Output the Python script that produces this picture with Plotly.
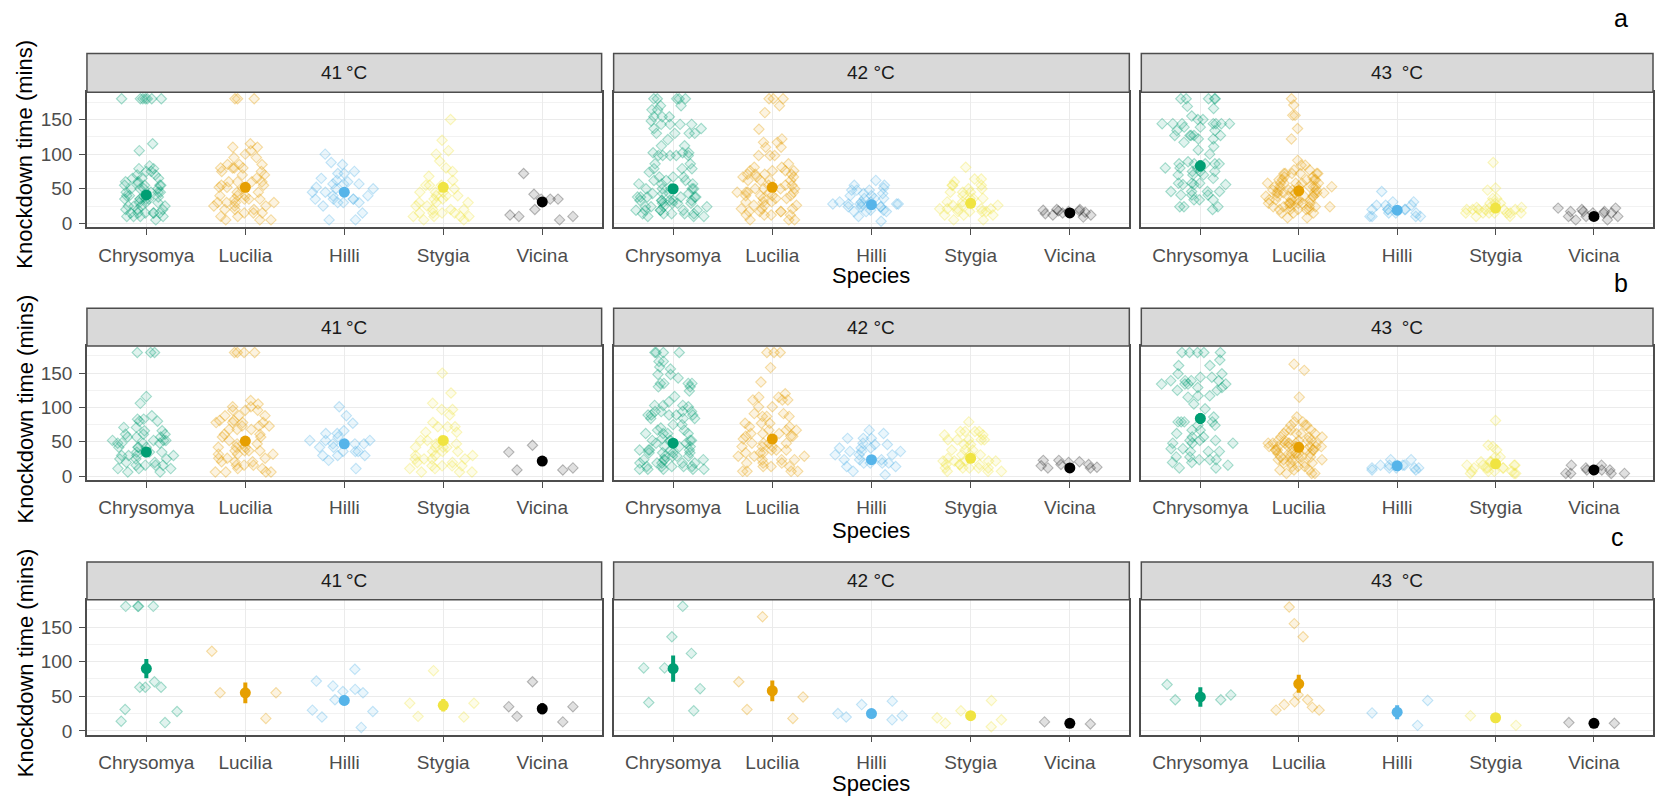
import plotly.graph_objects as go

# ---------------------------------------------------------------- categories
SPECIES = ["Chrysomya", "Lucilia", "Hilli", "Stygia", "Vicina"]
TEMPS = ["41\u2009°C", "42 °C", "43\u2002°C"]
ROW_TAGS = ["a", "b", "c"]
COLORS = ["#009E73", "#E69F00", "#56B4E9", "#F0E442", "#000000"]
Y_TICKS = [0, 50, 100, 150]

# ---------------------------------------------------------------- row a (knockdown times, mins)
A41_CHRY = [180, 180, 180, 180, 180, 180, 180, 115, 105, 83, 79, 79, 75, 75, 70, 70, 65, 65, 65, 60, 60, 58,
            55, 55, 55, 55, 50, 50, 50, 50, 45, 45, 45, 45, 40, 40, 38, 38, 35, 35, 35, 35, 35, 30, 30, 30,
            25, 25, 25, 25, 20, 20, 20, 15, 15, 15, 15, 15, 15, 10, 10, 10, 10, 5]
A41_LUC = [180, 180, 180, 115, 110, 110, 105, 100, 95, 95, 85, 85, 85, 80, 80, 80, 80, 75, 75, 70, 70, 65,
           60, 60, 60, 60, 55, 55, 52, 52, 50, 45, 45, 40, 40, 40, 35, 35, 35, 35, 30, 30, 30, 30, 25, 25, 25,
           20, 20, 20, 15, 15, 15, 10, 10, 5, 5, 5]
A41_HILLI = [100, 88, 85, 75, 72, 72, 65, 62, 60, 57, 57, 57, 52, 50, 50, 45, 45, 40, 40, 35, 35, 35, 35,
             30, 30, 30, 25, 15, 5, 5]
A41_STYG = [150, 120, 105, 100, 90, 80, 75, 68, 62, 55, 55, 55, 50, 45, 45, 45, 40, 40, 40, 35, 35, 30, 30,
            30, 25, 25, 20, 20, 20, 15, 15, 15, 15, 10, 10, 10, 10, 5, 5]
A41_VIC = [72, 42, 35, 35, 35, 20, 12, 10, 10, 5]

A42_CHRY = [180, 180, 180, 180, 180, 170, 170, 164, 164, 154, 154, 154, 148, 143, 143, 143, 143, 137, 137,
            130, 130, 130, 130, 121, 112, 112, 102, 102, 102, 98, 98, 98, 98, 98, 86, 86, 79, 79, 79, 74,
            67, 67, 67, 62, 62, 62, 57, 57, 57, 50, 50, 50, 50, 50, 43, 43, 43, 43, 38, 38, 38, 38, 38, 38,
            33, 33, 33, 33, 33, 33, 29, 29, 29, 29, 24, 24, 24, 24, 19, 19, 19, 19, 19, 19, 14, 14, 14, 14,
            14, 10, 10, 10]
A42_LUC = [180, 180, 180, 170, 160, 136, 122, 117, 117, 110, 110, 98, 98, 98, 86, 81, 81, 76, 76, 76, 76,
           71, 71, 71, 71, 67, 67, 67, 62, 62, 62, 62, 55, 55, 55, 50, 50, 50, 50, 45, 45, 45, 45, 45,
           40, 40, 40, 40, 36, 36, 36, 31, 31, 31, 26, 26, 26, 21, 21, 21, 17, 17, 17, 17, 12, 12, 12, 12,
           5, 5, 5]
A42_HILLI = [62, 55, 55, 51, 48, 48, 48, 43, 43, 40, 40, 36, 36, 36, 31, 31, 31, 28, 28, 28, 28, 28, 28,
             24, 24, 24, 24, 19, 19, 17, 17, 17, 10, 3]
A42_STYG = [81, 64, 64, 60, 55, 55, 55, 50, 50, 45, 45, 45, 40, 36, 36, 36, 31, 31, 26, 26, 26, 21, 21, 21,
            21, 21, 17, 17, 17, 17, 12, 12, 12, 5, 5]
A42_VIC = [12, 9, 19, 20, 18, 17, 14, 20, 12, 15, 18, 16]

A43_CHRY = [180, 180, 180, 180, 180, 169, 166, 155, 150, 150, 144, 144, 144, 144, 144, 144, 144, 139, 139,
            134, 134, 127, 127, 127, 127, 127, 122, 122, 117, 111, 106, 100, 89, 86, 86, 86, 86, 86, 80, 80,
            80, 75, 75, 75, 70, 70, 70, 65, 58, 58, 58, 56, 56, 56, 46, 46, 46, 46, 41, 41, 41, 34, 34, 34,
            24, 24, 24, 20]
A43_LUC = [180, 171, 156, 156, 137, 122, 91, 84, 84, 77, 77, 72, 72, 72, 72, 72, 72, 67, 67, 63, 63, 63, 63,
           63, 58, 58, 58, 58, 58, 58, 53, 53, 53, 53, 53, 53, 53, 48, 48, 48, 48, 48, 44, 44, 44, 44, 44, 44,
           44, 44, 39, 39, 39, 39, 39, 39, 34, 34, 34, 34, 34, 34, 29, 29, 29, 29, 29, 29, 29, 24, 24, 24, 24,
           24, 24, 20, 20, 20, 20, 20, 15, 15, 15, 8, 8]
A43_HILLI = [46, 31, 31, 26, 26, 26, 20, 20, 20, 20, 20, 15, 15, 15, 10, 10, 10, 10]
A43_STYG = [88, 51, 48, 36, 36, 29, 29, 29, 23, 23, 23, 20, 20, 20, 20, 20, 20, 15, 15, 15, 15, 15, 15, 15,
            10, 10]
A43_VIC = [22, 22, 20, 17, 17, 17, 15, 15, 15, 10, 10, 10, 5, 5]

# ---------------------------------------------------------------- row b
B41_CHRY = [180, 180, 180, 116, 106, 88, 83, 83, 80, 80, 71, 71, 66, 66, 61, 61, 61, 57, 57, 57, 52, 52, 52,
            52, 48, 48, 48, 48, 42, 42, 42, 42, 35, 35, 35, 35, 30, 30, 30, 30, 25, 25, 25, 20, 20, 16, 16,
            16, 16, 11, 11, 11, 6, 6]
B41_LUC = [180, 180, 180, 180, 110, 105, 101, 101, 96, 96, 96, 88, 88, 88, 81, 81, 78, 78, 78, 78, 73, 73,
           73, 68, 68, 68, 61, 61, 57, 57, 52, 47, 47, 47, 42, 42, 42, 37, 37, 37, 37, 32, 32, 32, 26, 26, 26,
           21, 21, 21, 16, 16, 16, 11, 11, 6, 6, 6, 6]
B41_HILLI = [101, 88, 77, 66, 62, 62, 57, 52, 52, 52, 47, 47, 47, 42, 42, 36, 36, 36, 30, 30, 30, 23, 11]
B41_STYG = [150, 121, 106, 97, 97, 89, 78, 72, 72, 72, 64, 64, 52, 52, 52, 47, 47, 42, 42, 42, 42, 36, 36,
            36, 30, 30, 30, 25, 25, 25, 25, 20, 20, 15, 15, 15, 15, 11, 11, 6, 6, 6]
B41_VIC = [45, 35, 12, 9, 9]

B42_CHRY = [180, 180, 180, 180, 167, 167, 159, 156, 148, 148, 143, 135, 135, 135, 135, 130, 130, 124, 116,
            108, 103, 103, 103, 101, 94, 94, 94, 94, 89, 89, 89, 89, 89, 84, 84, 84, 75, 75, 70, 67, 67, 62,
            62, 62, 62, 55, 52, 52, 52, 52, 52, 48, 48, 43, 43, 43, 38, 38, 38, 38, 38, 34, 34, 34, 34, 29,
            29, 29, 29, 24, 24, 24, 24, 19, 19, 19, 19, 19, 14, 14, 14, 14, 14, 10, 10, 10, 10, 10]
B42_LUC = [180, 180, 180, 158, 137, 120, 115, 115, 111, 111, 111, 101, 101, 91, 91, 87, 87, 87, 77, 77, 77,
           72, 72, 67, 67, 67, 62, 62, 62, 58, 58, 58, 54, 48, 48, 48, 48, 43, 43, 43, 38, 38, 38, 34, 34,
           34, 29, 29, 29, 24, 24, 24, 19, 19, 19, 14, 14, 14, 7, 7, 7, 7]
B42_HILLI = [67, 62, 55, 55, 55, 48, 46, 46, 41, 41, 41, 36, 36, 36, 31, 31, 31, 24, 24, 24, 19, 19, 19, 19,
             14, 14, 7, 2]
B42_STYG = [79, 65, 65, 65, 65, 60, 60, 53, 53, 53, 53, 53, 46, 46, 38, 38, 38, 31, 31, 31, 26, 22, 22, 22,
            22, 22, 17, 17, 17, 17, 12, 12, 12, 12, 12, 7, 7, 7]
B42_VIC = [21, 17, 15, 13, 12, 23, 20, 23, 17, 12]

B43_CHRY = [180, 180, 180, 180, 180, 169, 161, 161, 149, 149, 144, 144, 139, 139, 139, 139, 134, 134, 134,
            134, 129, 129, 125, 125, 117, 117, 115, 105, 98, 86, 79, 79, 79, 79, 74, 74, 67, 67, 62, 57, 57,
            52, 52, 52, 48, 48, 48, 40, 40, 36, 36, 36, 28, 28, 24, 24, 24, 20, 20, 16, 12, 12]
B43_LUC = [163, 154, 115, 86, 79, 79, 74, 74, 74, 67, 67, 67, 62, 62, 62, 62, 57, 57, 57, 52, 52, 52, 52, 52,
           48, 48, 48, 48, 48, 48, 48, 43, 43, 43, 43, 43, 43, 43, 38, 38, 38, 38, 38, 38, 33, 33, 33, 33,
           33, 33, 28, 28, 28, 28, 28, 24, 24, 24, 24, 19, 19, 19, 19, 14, 14, 14, 9, 9, 9, 4, 4, 4]
B43_HILLI = [24, 24, 16, 16, 16, 16, 12, 12, 12, 12, 12, 9, 9]
B43_STYG = [81, 45, 43, 38, 28, 28, 21, 21, 21, 16, 16, 16, 16, 12, 12, 12, 12, 12, 7, 7, 7, 7, 4, 4, 4]
B43_VIC = [16, 16, 12, 9, 9, 9, 9, 4, 4, 4, 4]

# ---------------------------------------------------------------- row c
C41_CHRY = [180, 180, 180, 180, 71, 63, 63, 63, 31, 28, 14, 12]
C41_LUC = [115, 55, 55, 18]
C41_HILLI = [89, 72, 65, 60, 57, 55, 45, 30, 28, 20, 5]
C41_STYG = [87, 40, 40, 21, 20]
C41_VIC = [71, 35, 35, 21, 13]

C42_CHRY = [180, 136, 112, 91, 91, 61, 41, 29]
C42_LUC = [165, 71, 49, 31, 18]
C42_HILLI = [43, 38, 25, 22, 20, 16]
C42_STYG = [44, 29, 19, 16, 11, 6]
C42_VIC = [10, 13]

C43_CHRY = [67, 52, 45, 45]
C43_LUC = [179, 155, 136, 52, 45, 42, 38, 34, 30, 30]
C43_HILLI = [44, 26, 8]
C43_STYG = [22, 8]
C43_VIC = [12, 11]

# ---------------------------------------------------------------- group means and standard errors
MEAN_A41, SE_A41 = [41, 52, 45, 52, 31], [5, 6, 5, 6, 6]
MEAN_A42, SE_A42 = [50, 52, 27, 29, 15], [5, 5, 3, 4, 2]
MEAN_A43, SE_A43 = [83, 47, 19, 22, 10], [8, 3, 3, 3, 2]
MEAN_B41, SE_B41 = [35, 51, 47, 52, 22], [5, 6, 5, 6, 6]
MEAN_B42, SE_B42 = [48, 54, 24, 26, 12], [5, 6, 3, 3, 2]
MEAN_B43, SE_B43 = [84, 42, 15, 18, 9], [8, 3, 2, 3, 2]
MEAN_C41, SE_C41 = [90, 55, 44, 37, 32], [14, 15, 7, 9, 8]
MEAN_C42, SE_C42 = [90, 58, 25, 22, 11], [19, 15, 3, 3, 2]
MEAN_C43, SE_C43 = [49, 68, 27, 19, 11], [14, 13, 10, 4, 2]

PANELS = [
    [([A41_CHRY, A41_LUC, A41_HILLI, A41_STYG, A41_VIC], MEAN_A41, SE_A41),
     ([A42_CHRY, A42_LUC, A42_HILLI, A42_STYG, A42_VIC], MEAN_A42, SE_A42),
     ([A43_CHRY, A43_LUC, A43_HILLI, A43_STYG, A43_VIC], MEAN_A43, SE_A43)],
    [([B41_CHRY, B41_LUC, B41_HILLI, B41_STYG, B41_VIC], MEAN_B41, SE_B41),
     ([B42_CHRY, B42_LUC, B42_HILLI, B42_STYG, B42_VIC], MEAN_B42, SE_B42),
     ([B43_CHRY, B43_LUC, B43_HILLI, B43_STYG, B43_VIC], MEAN_B43, SE_B43)],
    [([C41_CHRY, C41_LUC, C41_HILLI, C41_STYG, C41_VIC], MEAN_C41, SE_C41),
     ([C42_CHRY, C42_LUC, C42_HILLI, C42_STYG, C42_VIC], MEAN_C42, SE_C42),
     ([C43_CHRY, C43_LUC, C43_HILLI, C43_STYG, C43_VIC], MEAN_C43, SE_C43)],
]

# ---------------------------------------------------------------- geometry (pixels)
W, H = 1655, 806
FONT = "Liberation Sans, Arial, sans-serif"
COL_X = [(87, 602), (614, 1130), (1142, 1654)]
ROW_STRIP = [(54, 93), (311, 349), (567, 605)]
ROW_PLOT = [(93, 229), (349, 484), (605, 741)]
SPECIES_Y = [278, 535, 790]
YTITLE_Y = [155, 412, 668]
TAG_POS = [(1622, 18), (1622, 285), (1618, 542)]
Y_RANGE = [-5.3, 189.5]


def fx(p):
    return p / W


def fy(p):
    return 1 - p / H


def rgba(hex_color, a):
    h = hex_color.lstrip("#")
    r, g, b = int(h[0:2], 16), int(h[2:4], 16), int(h[4:6], 16)
    return f"rgba({r},{g},{b},{a})"


fig = go.Figure()
layout = {}
shapes = []
annotations = []

for r in range(3):
    for c in range(3):
        n = r * 3 + c + 1
        xa = "x" if n == 1 else f"x{n}"
        ya = "y" if n == 1 else f"y{n}"
        groups, means, ses = PANELS[r][c]

        # jittered raw observations (open-looking translucent diamonds)
        for s, vals in enumerate(groups):
            col = COLORS[s]
            fig.add_trace(go.Box(
                x=[SPECIES[s]] * len(vals), y=vals,
                boxpoints="all", jitter=1, pointpos=0, width=0.8,
                fillcolor="rgba(0,0,0,0)", line=dict(width=0),
                marker=dict(symbol="diamond", size=8,
                            color=rgba(col, 0.12 if s != 4 else 0.12),
                            line=dict(color=rgba(col, 0.34 if s != 4 else 0.26), width=1.1)),
                hoveron="points", showlegend=False, xaxis=xa, yaxis=ya,
            ))

        # group mean with standard-error bar
        for s in range(5):
            fig.add_trace(go.Scatter(
                x=[SPECIES[s]], y=[means[s]], mode="markers",
                marker=dict(symbol="circle", size=11, color=COLORS[s]),
                error_y=dict(type="data", array=[ses[s]], visible=True,
                             color=COLORS[s], thickness=4, width=0),
                showlegend=False, xaxis=xa, yaxis=ya,
            ))

        x0, x1 = COL_X[c]
        p0, p1 = ROW_PLOT[r]
        layout[f"xaxis{n}"] = dict(
            domain=[fx(x0), fx(x1)], anchor=ya, type="category",
            categoryorder="array", categoryarray=SPECIES, range=[-0.6, 4.6],
            showgrid=True, gridcolor="#EBEBEB", gridwidth=1,
            showline=True, mirror=True, linecolor="#4D4D4D", linewidth=1.5,
            ticks="outside", ticklen=6, tickcolor="#4D4D4D", tickwidth=1.2,
            ticklabelstandoff=4,
            tickfont=dict(family=FONT, size=19, color="#4D4D4D"), zeroline=False,
        )
        layout[f"yaxis{n}"] = dict(
            domain=[fy(p1), fy(p0)], anchor=xa, range=Y_RANGE,
            tickmode="array", tickvals=Y_TICKS,
            showgrid=True, gridcolor="#EBEBEB", gridwidth=1,
            minor=dict(tickmode="array", tickvals=[25, 75, 125, 175], showgrid=True,
                       gridcolor="#F2F2F2", gridwidth=1, ticks=""),
            showline=True, mirror=True, linecolor="#4D4D4D", linewidth=1.5,
            ticks="outside" if c == 0 else "", ticklen=6, tickcolor="#4D4D4D", tickwidth=1.2,
            showticklabels=(c == 0), ticklabelstandoff=3,
            tickfont=dict(family=FONT, size=19, color="#4D4D4D"), zeroline=False,
        )

        # facet strip
        s0, s1 = ROW_STRIP[r]
        shapes.append(dict(type="rect", xref="paper", yref="paper",
                           x0=fx(x0), x1=fx(x1), y0=fy(s1), y1=fy(s0),
                           fillcolor="#D9D9D9", line=dict(color="#4D4D4D", width=1.5)))
        annotations.append(dict(text=TEMPS[c], xref="paper", yref="paper",
                                x=fx((x0 + x1) / 2), y=fy((s0 + s1) / 2),
                                xanchor="center", yanchor="middle", showarrow=False,
                                font=dict(family=FONT, size=19, color="#1A1A1A")))

    annotations.append(dict(text="Species", xref="paper", yref="paper",
                            x=fx((COL_X[1][0] + COL_X[1][1]) / 2), y=fy(SPECIES_Y[r]),
                            xanchor="center", yanchor="middle", showarrow=False,
                            font=dict(family=FONT, size=22, color="#000000")))
    annotations.append(dict(text="Knockdown time (mins)", xref="paper", yref="paper",
                            x=fx(25), y=fy(YTITLE_Y[r]), textangle=-90,
                            xanchor="center", yanchor="middle", showarrow=False,
                            font=dict(family=FONT, size=22, color="#000000")))
    annotations.append(dict(text=ROW_TAGS[r], xref="paper", yref="paper",
                            x=fx(TAG_POS[r][0]), y=fy(TAG_POS[r][1]),
                            xanchor="center", yanchor="middle", showarrow=False,
                            font=dict(family=FONT, size=25, color="#000000")))

fig.update_layout(
    width=W, height=H, margin=dict(l=0, r=0, t=0, b=0),
    paper_bgcolor="white", plot_bgcolor="white",
    showlegend=False, boxmode="overlay",
    shapes=shapes, annotations=annotations, **layout,
)

fig.write_html("out.html")
